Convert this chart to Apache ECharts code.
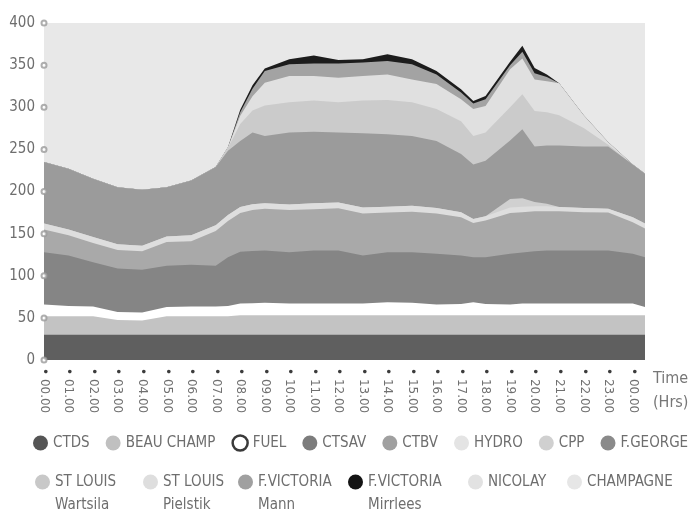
<!DOCTYPE html>
<html>
<head>
<meta charset="utf-8">
<script src="https://cdn.jsdelivr.net/npm/echarts@6/dist/echarts.min.js"></script>
<style>
  html, body { margin: 0; padding: 0; background: #fff; }
  #chart { width: 696px; height: 521px; }
</style>
</head>
<body>
<div id="chart"></div>
<script>
// time of day in hours, 24.5 is the right edge of the plot
const hours = [0, 1, 2, 3, 4, 5, 6, 7, 7.5, 8, 8.5, 9, 10, 11, 12, 13, 14, 15, 16, 17, 17.5, 18, 19, 19.5, 20, 20.5, 21, 22, 23, 24, 24.5]
const hourLabels = ['00.00', '01.00', '02.00', '03.00', '04.00', '05.00', '06.00', '07.00', '08.00', '09.00', '10.00', '11.00',
  '12.00', '13.00', '14.00', '15.00', '16.00', '17.00', '18.00', '19.00', '20.00', '21.00', '22.00', '23.00', '00.00']
const yTicks = [0, 50, 100, 150, 200, 250, 300, 350, 400]

// MW per station, stacked bottom to top
const ctds = [30, 30, 30, 30, 30, 30, 30, 30, 30, 30, 30, 30, 30, 30, 30, 30, 30, 30, 30, 30, 30, 30, 30, 30, 30, 30, 30, 30, 30, 30, 30]
const beauChamp = [22, 22, 22, 17.5, 17, 22, 22, 22, 22, 23, 23, 23, 23, 23, 23, 23, 23, 23, 23, 23, 23, 23, 23, 23, 23, 23, 23, 23, 23, 23, 23]
const fuel = [14, 12, 11.5, 9.5, 9.5, 11, 11.5, 11.5, 12, 14, 14.5, 15, 14, 14, 14, 14, 15.5, 15, 13, 13.5, 15.5, 13.5, 13, 14, 14, 14, 14, 14, 14, 14, 10]
const ctsav = [62, 60, 52.5, 51.5, 50.5, 49, 49.5, 48.5, 58, 61.5, 62, 62, 61, 63, 63, 57, 59.5, 60, 60, 57.5, 53.5, 55.5, 60, 60.5, 62, 63, 63, 63, 63, 59, 59]
const ctbv = [27, 24, 23, 22, 22, 28, 28, 41, 43, 46, 48.5, 49.5, 50, 49, 50, 50, 47, 48, 48, 45.5, 40.5, 43.5, 48.5, 48, 47.5, 46.5, 46.5, 45.5, 45, 37.5, 34]
const hydro = [7, 7, 7, 7, 6.5, 6.5, 7, 7, 7, 7, 7, 6.5, 6.5, 7, 7, 7, 7, 7, 6.5, 6, 5, 5, 6.5, 6.5, 6, 6, 5, 5, 4.5, 6, 6]
const cpp = [0, 0, 0, 0, 0, 0, 0, 0, 0, 0, 0, 0, 0, 0, 0, 0, 0, 0, 0, 0, 0, 0, 10, 10, 5, 3, 0, 0, 0, 0, 0]
const fGeorge = [73, 72, 69, 67.5, 66.5, 58.5, 65, 69, 76.5, 78.5, 85, 80, 85.5, 85, 83, 88, 86, 83, 79.5, 69, 64.5, 66, 69.5, 82, 66, 69, 73, 73, 74, 62.5, 59]
const stLouisWartsila = [0, 0, 0, 0, 0, 0, 0, 0, 3.5, 20, 26, 36, 36, 37, 36, 39, 40.5, 40, 38, 39, 34, 33.5, 39.5, 41.5, 42, 39.5, 36, 22, 2, 0, 0]
const stLouisPielstik = [0, 0, 0, 0, 0, 0, 0, 0, 0.5, 10, 17, 27, 31, 29, 29, 29, 30.5, 27, 29.5, 26, 32, 31.5, 45, 42.5, 37.5, 37, 38, 15, 3, 0, 0]
const fVictoriaMann = [0, 0, 0, 0, 0, 0, 0, 0, 0, 4, 9, 14, 14, 15, 17, 16, 16, 18, 11.5, 8, 6.5, 8, 5, 8, 7.5, 5, 0, 0, 0, 0, 0]
const fVictoriaMirrlees = [0, 0, 0, 0, 0, 0, 0, 0, 0, 3, 4, 3, 6, 9.5, 4, 4, 8, 6, 4, 4, 3, 4, 4, 7, 6, 3, 0, 0, 0, 0, 0]
const nicolay = [0, 0, 0, 0, 0, 0, 0, 0, 0, 0, 0, 0, 0, 0, 0, 0, 0, 0, 0, 0, 0, 0, 0, 0, 0, 0, 0, 0, 0, 0, 0]
const champagne = [0, 0, 0, 0, 0, 0, 0, 0, 0, 0, 0, 0, 0, 0, 0, 0, 0, 0, 0, 0, 0, 0, 0, 0, 0, 0, 0, 0, 0, 0, 0]

const names = ['CTDS', 'BEAU CHAMP', 'FUEL', 'CTSAV', 'CTBV', 'HYDRO', 'CPP', 'F.GEORGE',
  'ST LOUIS\nWartsila', 'ST LOUIS\nPielstik', 'F.VICTORIA\nMann', 'F.VICTORIA\nMirrlees', 'NICOLAY', 'CHAMPAGNE']
const values = [ctds, beauChamp, fuel, ctsav, ctbv, hydro, cpp, fGeorge,
  stLouisWartsila, stLouisPielstik, fVictoriaMann, fVictoriaMirrlees, nicolay, champagne]
const colors = ['#5f5f5f', '#c3c3c3', '#ffffff', '#858585', '#a9a9a9', '#dedede', '#d0d0d0', '#9b9b9b',
  '#cbcbcb', '#e0e0e0', '#a3a3a3', '#1c1c1c', '#e3e3e3', '#e6e6e6']
const legendColors = ['#555555', '#c0c0c0', '#ffffff', '#7c7c7c', '#a0a0a0', '#e4e4e4', '#d0d0d0', '#8a8a8a',
  '#c8c8c8', '#dedede', '#a0a0a0', '#141414', '#e2e2e2', '#e6e6e6']

const narrow = "'Liberation Sans Narrow', 'DejaVu Sans Condensed', sans-serif"
const textColor = '#6e6e6e'

const chart = echarts.init(document.getElementById('chart'))

// running totals, each band is filled down to zero and the lower bands are painted over it
let running = hours.map(() => 0)
const series = names.map((name, i) => {
  running = running.map((r, j) => r + values[i][j])
  const top = running
  return {
    name: name,
    type: 'line',
    data: hours.map((h, j) => [h, top[j]]),
    symbol: 'none',
    lineStyle: { width: 0 },
    itemStyle: { color: legendColors[i] },
    areaStyle: { color: colors[i], opacity: 1, origin: 'start' },
    z: 30 - i
  }
})

// hollow markers on the value axis
series.push({
  type: 'scatter',
  data: yTicks.map(v => [0, v]),
  symbol: 'emptyCircle',
  symbolSize: 5,
  itemStyle: { color: '#9a9a9a', borderWidth: 1 },
  clip: false,
  silent: true,
  z: 40
})

const legendFont = {
  fontFamily: narrow,
  fontSize: 15,
  color: textColor,
  lineHeight: 23
}

const row1 = names.slice(0, 8).map(name => {
  if (name === 'FUEL') {
    return { name: name, itemStyle: { color: '#ffffff', borderColor: '#3a3a3a', borderWidth: 2.5 } }
  }
  return { name: name }
})

const legends = [{
  data: row1,
  left: 33,
  top: 431.5,
  width: 680,
  padding: 0,
  icon: 'circle',
  itemWidth: 15,
  itemHeight: 15,
  itemGap: 16,
  itemStyle: { borderWidth: 0 },
  textStyle: legendFont
}]

const row2Left = [35, 143, 238, 348, 468, 567]
names.slice(8).forEach((name, k) => {
  const twoLines = name.indexOf('\n') >= 0
  legends.push({
    data: [name],
    left: row2Left[k],
    top: twoLines ? 447.5 : 470.5,
    padding: 0,
    icon: 'circle',
    itemWidth: 15,
    itemHeight: 15,
    itemStyle: { borderWidth: 0 },
    formatter: n => {
      if (!twoLines) return n
      const parts = n.split('\n')
      return '{gap|}\n{a|' + parts[0] + '}\n{a|' + parts[1] + '}'
    },
    textStyle: Object.assign({}, legendFont, {
      rich: {
        gap: { height: 23, lineHeight: 23 },
        a: legendFont
      }
    })
  })
})

chart.setOption({
  animation: false,
  backgroundColor: '#ffffff',
  grid: {
    left: 44,
    right: 51,
    top: 23,
    bottom: 161,
    show: true,
    backgroundColor: '#e8e8e8',
    borderWidth: 0,
    containLabel: false,
    outerBoundsMode: 'none'
  },
  legend: legends,
  xAxis: {
    type: 'value',
    min: 0,
    max: 24.5,
    interval: 1,
    name: 'Time\n(Hrs)',
    nameLocation: 'end',
    nameGap: 8,
    nameTextStyle: {
      fontFamily: narrow,
      fontSize: 16,
      color: '#777777',
      align: 'left',
      verticalAlign: 'top',
      lineHeight: 24,
      padding: [7, 0, 0, 0]
    },
    axisLine: { show: false },
    axisTick: { show: false },
    splitLine: { show: false },
    axisLabel: {
      rotate: -90,
      margin: 8,
      fontSize: 12,
      fontFamily: 'DejaVu Sans',
      color: '#707070',
      formatter: value => Number.isInteger(value) ? '{d|•} {t|' + hourLabels[value] + '}' : '',
      rich: {
        d: { fontSize: 12, fontFamily: 'DejaVu Sans', color: '#3c3c3c' },
        t: { fontSize: 12, fontFamily: 'DejaVu Sans', color: '#707070' }
      }
    }
  },
  yAxis: {
    type: 'value',
    min: 0,
    max: 400,
    interval: 50,
    axisLine: { show: false },
    axisTick: { show: false },
    splitLine: { show: false },
    axisLabel: {
      margin: 9,
      fontFamily: narrow,
      fontSize: 15,
      color: textColor
    }
  },
  series: series
})
</script>
</body>
</html>
